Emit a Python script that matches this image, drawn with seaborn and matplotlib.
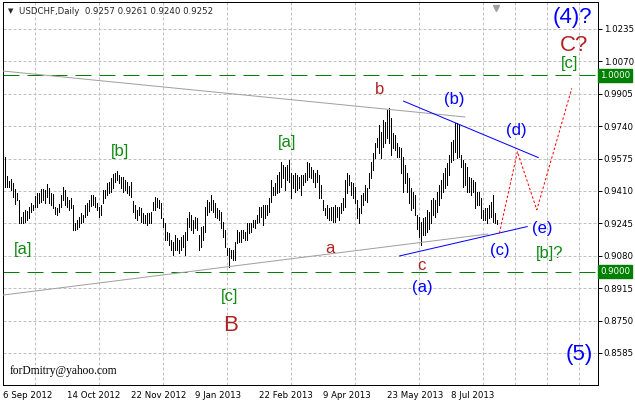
import matplotlib
matplotlib.use("Agg")
import matplotlib.pyplot as plt
import matplotlib.transforms as mtransforms
import seaborn as sns
import pandas as pd

# ---------------- data ----------------
highs = [0.9585, 0.9487, 0.9463, 0.9470, 0.9449, 0.9419, 0.9402, 0.9364, 0.9276, 0.9305,
         0.9313, 0.9310, 0.9330, 0.9347, 0.9339, 0.9385, 0.9398, 0.9398, 0.9419, 0.9419,
         0.9415, 0.9446, 0.9424, 0.9402, 0.9395, 0.9330, 0.9322, 0.9344, 0.9390, 0.9429,
         0.9415, 0.9381, 0.9364, 0.9373, 0.9339, 0.9245, 0.9262, 0.9276, 0.9296, 0.9288,
         0.9339, 0.9347, 0.9364, 0.9390, 0.9390, 0.9381, 0.9347, 0.9330, 0.9339, 0.9415,
         0.9415, 0.9449, 0.9458, 0.9475, 0.9497, 0.9504, 0.9514, 0.9492, 0.9483, 0.9480,
         0.9466, 0.9458, 0.9436, 0.9458, 0.9359, 0.9339, 0.9313, 0.9330, 0.9322, 0.9300,
         0.9288, 0.9296, 0.9296, 0.9305, 0.9356, 0.9381, 0.9373, 0.9364, 0.9347, 0.9271,
         0.9245, 0.9203, 0.9194, 0.9160, 0.9152, 0.9186, 0.9169, 0.9160, 0.9177, 0.9186,
         0.9203, 0.9271, 0.9305, 0.9288, 0.9262, 0.9279, 0.9271, 0.9186, 0.9228, 0.9232,
         0.9330, 0.9364, 0.9356, 0.9390, 0.9364, 0.9347, 0.9322, 0.9313, 0.9305, 0.9254,
         0.9211, 0.9118, 0.9118, 0.9109, 0.9109, 0.9152, 0.9211, 0.9203, 0.9211, 0.9211,
         0.9203, 0.9245, 0.9245, 0.9245, 0.9262, 0.9262, 0.9288, 0.9330, 0.9330, 0.9338,
         0.9338, 0.9338, 0.9372, 0.9466, 0.9432, 0.9449, 0.9491, 0.9508, 0.9559, 0.9542,
         0.9534, 0.9542, 0.9568, 0.9500, 0.9491, 0.9500, 0.9491, 0.9483, 0.9491, 0.9491,
         0.9500, 0.9559, 0.9551, 0.9534, 0.9517, 0.9500, 0.9517, 0.9491, 0.9440, 0.9364,
         0.9321, 0.9338, 0.9321, 0.9330, 0.9330, 0.9338, 0.9330, 0.9330, 0.9347, 0.9372,
         0.9466, 0.9500, 0.9491, 0.9457, 0.9449, 0.9432, 0.9364, 0.9321, 0.9389, 0.9398,
         0.9440, 0.9423, 0.9500, 0.9559, 0.9602, 0.9653, 0.9678, 0.9746, 0.9712, 0.9772,
         0.9763, 0.9823, 0.9831, 0.9780, 0.9704, 0.9695, 0.9653, 0.9636, 0.9627, 0.9585,
         0.9542, 0.9500, 0.9474, 0.9423, 0.9406, 0.9389, 0.9287, 0.9279, 0.9253, 0.9270,
         0.9279, 0.9313, 0.9304, 0.9364, 0.9372, 0.9364, 0.9406, 0.9440, 0.9466, 0.9500,
         0.9525, 0.9551, 0.9593, 0.9661, 0.9670, 0.9755, 0.9755, 0.9746, 0.9593, 0.9568,
         0.9551, 0.9534, 0.9483, 0.9474, 0.9466, 0.9457, 0.9406, 0.9406, 0.9372, 0.9313,
         0.9321, 0.9321, 0.9338, 0.9355, 0.9389, 0.9296, 0.9261]
lows = [0.9432, 0.9432, 0.9429, 0.9415, 0.9381, 0.9344, 0.9364, 0.9245, 0.9245, 0.9245,
        0.9254, 0.9262, 0.9271, 0.9305, 0.9313, 0.9330, 0.9330, 0.9347, 0.9356, 0.9364,
        0.9347, 0.9378, 0.9347, 0.9339, 0.9322, 0.9293, 0.9288, 0.9305, 0.9330, 0.9364,
        0.9339, 0.9330, 0.9313, 0.9322, 0.9211, 0.9211, 0.9215, 0.9225, 0.9245, 0.9254,
        0.9279, 0.9288, 0.9310, 0.9334, 0.9339, 0.9330, 0.9313, 0.9276, 0.9288, 0.9347,
        0.9373, 0.9390, 0.9398, 0.9407, 0.9424, 0.9458, 0.9466, 0.9449, 0.9424, 0.9407,
        0.9415, 0.9398, 0.9390, 0.9381, 0.9305, 0.9271, 0.9262, 0.9288, 0.9254, 0.9249,
        0.9245, 0.9237, 0.9245, 0.9245, 0.9313, 0.9313, 0.9330, 0.9322, 0.9271, 0.9228,
        0.9160, 0.9160, 0.9135, 0.9109, 0.9084, 0.9109, 0.9109, 0.9092, 0.9109, 0.9126,
        0.9084, 0.9160, 0.9228, 0.9211, 0.9194, 0.9220, 0.9211, 0.9109, 0.9126, 0.9160,
        0.9203, 0.9288, 0.9305, 0.9313, 0.9305, 0.9279, 0.9271, 0.9262, 0.9220, 0.9177,
        0.9126, 0.9084, 0.9024, 0.9067, 0.9058, 0.9058, 0.9143, 0.9152, 0.9152, 0.9169,
        0.9160, 0.9160, 0.9194, 0.9203, 0.9228, 0.9220, 0.9245, 0.9254, 0.9279, 0.9236,
        0.9270, 0.9287, 0.9304, 0.9355, 0.9389, 0.9389, 0.9398, 0.9406, 0.9432, 0.9474,
        0.9415, 0.9466, 0.9457, 0.9372, 0.9423, 0.9406, 0.9415, 0.9423, 0.9389, 0.9440,
        0.9457, 0.9466, 0.9483, 0.9474, 0.9457, 0.9432, 0.9457, 0.9372, 0.9372, 0.9313,
        0.9287, 0.9270, 0.9262, 0.9262, 0.9253, 0.9253, 0.9279, 0.9262, 0.9296, 0.9313,
        0.9330, 0.9398, 0.9440, 0.9389, 0.9372, 0.9347, 0.9270, 0.9245, 0.9296, 0.9338,
        0.9364, 0.9355, 0.9423, 0.9474, 0.9517, 0.9576, 0.9636, 0.9602, 0.9576, 0.9636,
        0.9653, 0.9678, 0.9653, 0.9593, 0.9627, 0.9619, 0.9585, 0.9585, 0.9500, 0.9406,
        0.9449, 0.9406, 0.9347, 0.9313, 0.9321, 0.9287, 0.9219, 0.9177, 0.9134, 0.9185,
        0.9185, 0.9202, 0.9219, 0.9245, 0.9287, 0.9279, 0.9304, 0.9338, 0.9372, 0.9406,
        0.9423, 0.9440, 0.9491, 0.9559, 0.9568, 0.9610, 0.9576, 0.9585, 0.9534, 0.9432,
        0.9440, 0.9406, 0.9406, 0.9389, 0.9406, 0.9321, 0.9338, 0.9338, 0.9270, 0.9262,
        0.9262, 0.9245, 0.9270, 0.9279, 0.9253, 0.9245, 0.9240]

date_labels = ["6 Sep 2012", "14 Oct 2012", "22 Nov 2012", "9 Jan 2013",
               "22 Feb 2013", "9 Apr 2013", "23 May 2013", "8 Jul 2013"]
date_label_bars = [-1, 31, 63, 95, 127, 159, 191, 223]
price_ticks = [1.0235, 1.0070, 0.9905, 0.9740, 0.9575, 0.9410,
               0.9245, 0.9080, 0.8915, 0.8750, 0.8585]
level_prices = [1.0000, 0.9000]
header = "USDCHF,Daily  0.9257 0.9261 0.9240 0.9252"

# trend lines: (bar index list, price list)
upper_gray_x, upper_gray_y = [-1, 230], [1.0021, 0.9787]
lower_gray_x, lower_gray_y = [-1, 241.5], [0.8880, 0.9191]
upper_blue_x, upper_blue_y = [199.2, 266.7], [0.9868, 0.9580]
lower_blue_x, lower_blue_y = [197.2, 261.2], [0.9079, 0.9229]
proj_x, proj_y = [247.2, 256.2, 265.9, 283.4], [0.9195, 0.9610, 0.9314, 0.9933]

GREEN = "#118a11"
RED = "#b22222"
BLUE = "#0000ff"
labels = [
    ("[b]", 57.5, 0.9610, GREEN, 12), ("[a]", 141, 0.9655, GREEN, 12),
    ("[a]", 9, 0.9110, GREEN, 12), ("[c]", 112.5, 0.8871, GREEN, 12),
    ("B", 113, 0.8723, RED, 16), ("b", 187.5, 0.9925, RED, 12),
    ("a", 162.3, 0.9119, RED, 12), ("c", 208.3, 0.9032, RED, 12),
    ("(b)", 224.5, 0.9874, BLUE, 12), ("(d)", 255.8, 0.9717, BLUE, 12),
    ("(a)", 208.5, 0.8919, BLUE, 12), ("(c)", 247.5, 0.9105, BLUE, 12),
    ("(e)", 268.7, 0.9220, BLUE, 12), ("[b]?", 272.5, 0.9090, GREEN, 12),
    ("(4)?", 283.5, 1.0295, BLUE, 16), ("C?", 284.5, 1.0151, RED, 16),
    ("[c]", 282.3, 1.0057, GREEN, 12), ("(5)", 287, 0.8576, BLUE, 16),
]

# ---------------- figure ----------------
sns.set_style("white")
plt.rcParams["font.family"] = ["DejaVu Sans"]

W, H = 635, 404
fig = plt.figure(figsize=(W / 100, H / 100), dpi=100)
ax = fig.add_axes([3 / W, 19 / H, 595 / W, 383 / H])
px = 0.72  # one pixel in points

ax.set_xlim(-1, 296.5)
ax.set_ylim(0.84220, 1.03725)

# grid
ax.set_yticks(price_ticks)
ax.set_yticklabels([f"{v:.4f}" for v in price_ticks])
ax.set_xticks(date_label_bars)
ax.set_xticklabels(date_labels)
ax.set_xticks(list(range(15, 296, 16)), minor=True)
ax.grid(axis="y", which="major", color="#c0c0c0", linestyle=(0, (3, 2)), linewidth=px)
ax.grid(axis="x", which="minor", color="#c0c0c0", linestyle=(0, (3, 2)), linewidth=px)
ax.set_axisbelow(True)

# bars
idx = list(range(len(highs)))
ax.vlines(idx, lows, highs, colors="black", linewidth=px, antialiased=False, zorder=3)

# horizontal levels
for p in level_prices:
    ax.axhline(p, color="#008000", linewidth=px, linestyle=(0, (16, 8)), zorder=2)
    ax.text(1.004, p, f"{p:.4f}", transform=ax.get_yaxis_transform(), color="white",
            fontsize=6.2, va="center", ha="left", clip_on=False,
            bbox=dict(boxstyle="square,pad=0.22", fc="#008000", ec="#008000"))

# trend lines via seaborn
def seg(xs, ys, color, style="-"):
    df = pd.DataFrame({"x": xs, "y": ys})
    sns.lineplot(data=df, x="x", y="y", ax=ax, color=color, linewidth=px,
                 linestyle=style, sort=False, estimator=None, zorder=4)

seg(upper_gray_x, upper_gray_y, "#a0a0a0")
seg(lower_gray_x, lower_gray_y, "#a0a0a0")
seg(upper_blue_x, upper_blue_y, BLUE)
seg(lower_blue_x, lower_blue_y, BLUE)
seg(proj_x, proj_y, "#ff0000", (0, (2.5, 2)))

ax.set_xlim(-1, 296.5)
ax.set_ylim(0.84220, 1.03725)
ax.set_xlabel("")
ax.set_ylabel("")

# wave labels
for txt, x, y, c, s in labels:
    ax.text(x, y, txt, color=c, fontsize=s, ha="center", va="center",
            family=["Liberation Sans"], zorder=5)

ax.text(2.5, 0.8494, "forDmitry@yahoo.com", color="black", fontsize=8.3,
        ha="left", va="center", family=["Liberation Serif"], zorder=5)

# axes styling
ax.yaxis.tick_right()
ax.tick_params(axis="y", which="major", direction="out", length=3, width=px,
               labelsize=6.2, pad=1, colors="black")
ax.tick_params(axis="x", which="major", direction="out", length=3, width=px,
               labelsize=6.2, pad=1.5, colors="black")
ax.tick_params(axis="x", which="minor", length=0)
for lab in ax.get_xticklabels():
    lab.set_horizontalalignment("left")
for sp in ax.spines.values():
    sp.set_color("black")
    sp.set_linewidth(px)
    sp.set_visible(True)

# header
fig.text(8 / W, 1 - 11 / H, "\u25bc", fontsize=5, va="center", ha="left")
fig.text(19 / W, 1 - 11 / H, header, fontsize=6.2, va="center", ha="left")
# chart shift marker
ax.plot([245.5], [0.985], marker="v", color="#a0a0a0", markersize=4,
        transform=mtransforms.blended_transform_factory(ax.transData, ax.transAxes),
        clip_on=False, zorder=6)

fig.savefig("out.png", dpi=100, facecolor="white")
